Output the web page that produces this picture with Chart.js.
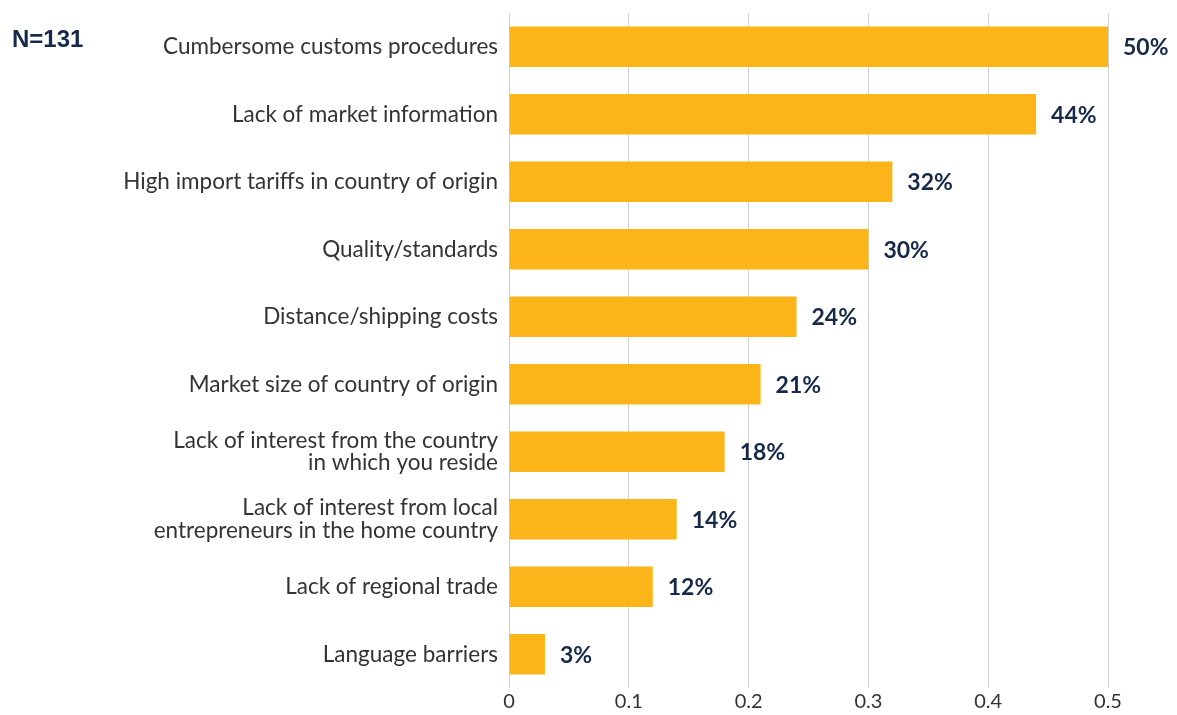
<!DOCTYPE html>
<html>
<head>
<meta charset="utf-8">
<script src="https://cdn.jsdelivr.net/npm/chart.js@4"></script>
<style>
  html, body { margin: 0; padding: 0; background: #fff; }
  #wrap { width: 1177px; height: 715px; position: relative; }
</style>
</head>
<body>
<div id="wrap"><canvas id="barrierChart"></canvas></div>
<script>
// data
const categories = [
    'Cumbersome customs procedures',
    'Lack of market information',
    'High import tariffs in country of origin',
    'Quality/standards',
    'Distance/shipping costs',
    'Market size of country of origin',
    ['Lack of interest from the country', 'in which you reside'],
    ['Lack of interest from local', 'entrepreneurs in the home country'],
    'Lack of regional trade',
    'Language barriers'
];
const shares = [0.50, 0.44, 0.32, 0.30, 0.24, 0.21, 0.18, 0.14, 0.12, 0.03];
const sampleNote = 'N=131';

const navy = '#17294a';

// label persen di ujung bar + catatan N
const valueLabels = {
    id: 'valueLabels',
    afterDatasetsDraw(chart) {
        const ctx = chart.ctx;
        const meta = chart.getDatasetMeta(0);
        ctx.save();
        ctx.fillStyle = navy;
        ctx.font = 'bold 23px Lato, "Open Sans", sans-serif';
        ctx.textAlign = 'left';
        ctx.textBaseline = 'middle';
        meta.data.forEach((bar, i) => {
            ctx.fillText(Math.round(shares[i] * 100) + '%', bar.x + 15, bar.y + 1);
        });
        ctx.font = 'bold 24px "Liberation Sans", Arial, sans-serif';
        ctx.fillText(sampleNote, 12, 40);
        ctx.restore();
    }
};

const ctx = document.getElementById('barrierChart').getContext('2d');
const barrierChart = new Chart(ctx, {
    type: 'bar',
    data: {
        labels: categories,
        datasets: [{
            data: shares,
            backgroundColor: '#fbb519',
            barPercentage: 0.6,
            categoryPercentage: 1.0
        }]
    },
    options: {
        indexAxis: 'y',
        responsive: true,
        maintainAspectRatio: false,
        animation: false,
        layout: {
            padding: { top: 13, right: 69, bottom: 0, left: 0 }
        },
        scales: {
            x: {
                min: 0,
                max: 0.5,
                afterFit(scale) {
                    scale.height = 27;
                    scale.paddingLeft = 0;
                    scale.paddingRight = 0;
                },
                ticks: {
                    stepSize: 0.1,
                    color: '#333',
                    padding: 2,
                    font: { family: 'Lato, "Open Sans", sans-serif', size: 20 }
                },
                grid: { color: '#d0d0d0', drawTicks: false },
                border: { display: false }
            },
            y: {
                afterFit(scale) {
                    scale.width = 509;
                    scale.paddingTop = 0;
                    scale.paddingBottom = 0;
                },
                ticks: {
                    color: '#333',
                    padding: 11,
                    font: { family: 'Lato, "Open Sans", sans-serif', size: 22.5, lineHeight: 1.0 }
                },
                grid: { display: false, drawTicks: false },
                border: { display: false }
            }
        },
        plugins: {
            legend: { display: false },
            tooltip: { enabled: false }
        }
    },
    plugins: [valueLabels]
});
</script>
</body>
</html>
